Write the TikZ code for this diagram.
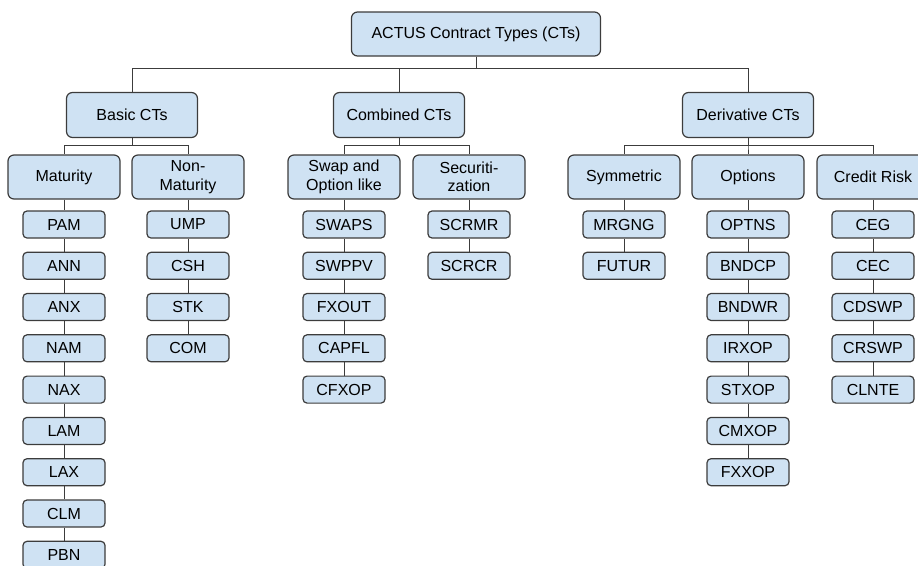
\documentclass[tikz,border=0pt]{standalone}
\usepackage{fontspec}
\setmainfont{Liberation Sans}
\usetikzlibrary{arrows}
\usetikzlibrary{shapes}

\definecolor{boxfill}{HTML}{CFE2F3}
\definecolor{boxline}{HTML}{3C3C3C}

\begin{document}
\begin{tikzpicture}[x = 1pt, y = -1pt]
\tikzstyle{ctStyle} = [draw = boxline, fill = boxfill, line width = 1.2pt, rounded corners = 6pt, align = center, inner sep = 0pt, font = \fontsize{16}{18.5}\selectfont]
\tikzstyle{rootStyle} = [ctStyle, minimum width = 249pt, minimum height = 44pt]
\tikzstyle{groupStyle} = [ctStyle, minimum width = 131pt, minimum height = 45pt]
\tikzstyle{familyStyle} = [ctStyle, minimum width = 112pt, minimum height = 44pt]
\tikzstyle{leafStyle} = [ctStyle, rounded corners = 4pt, minimum width = 82pt, minimum height = 27pt]
\tikzstyle{EdgeStyle} = [draw = boxline, line width = 1pt]
\useasboundingbox (0,0) rectangle (918,565);
% top levels
\node[rootStyle] (ctRoot) at (476, 34) {ACTUS Contract Types (CTs)};
\node[groupStyle] (basic) at (132, 115) {Basic CTs};
\node[groupStyle] (combined) at (399, 115) {Combined CTs};
\node[groupStyle] (derivative) at (748, 115) {Derivative CTs};
\node[familyStyle] (maturity) at (64, 177) {Maturity};
\node[familyStyle] (nonMaturity) at (188, 177) {Non-\\Maturity};
\node[familyStyle] (swapOption) at (344, 177) {Swap and\\Option like};
\node[familyStyle] (securitization) at (469, 177) {Securiti-\\zation};
\node[familyStyle] (symmetric) at (624, 177) {Symmetric};
\node[familyStyle] (options) at (748, 177) {Options};
\node[familyStyle] (creditRisk) at (873, 177) {Credit Risk};
% maturity
\node[leafStyle] (pam) at (64, 224.5) {PAM};
\node[leafStyle] (ann) at (64, 265.8) {ANN};
\node[leafStyle] (anx) at (64, 307) {ANX};
\node[leafStyle] (nam) at (64, 348.3) {NAM};
\node[leafStyle] (nax) at (64, 389.6) {NAX};
\node[leafStyle] (lam) at (64, 430.9) {LAM};
\node[leafStyle] (lax) at (64, 472.2) {LAX};
\node[leafStyle] (clm) at (64, 513.5) {CLM};
\node[leafStyle] (pbn) at (64, 554.8) {PBN};
% non-maturity
\node[leafStyle] (ump) at (188, 224.5) {UMP};
\node[leafStyle] (csh) at (188, 265.8) {CSH};
\node[leafStyle] (stk) at (188, 307) {STK};
\node[leafStyle] (com) at (188, 348.3) {COM};
% swap and option like
\node[leafStyle] (swaps) at (344, 224.5) {SWAPS};
\node[leafStyle] (swppv) at (344, 265.8) {SWPPV};
\node[leafStyle] (fxout) at (344, 307) {FXOUT};
\node[leafStyle] (capfl) at (344, 348.3) {CAPFL};
\node[leafStyle] (cfxop) at (344, 389.6) {CFXOP};
% securitization
\node[leafStyle] (scrmr) at (469, 224.5) {SCRMR};
\node[leafStyle] (scrcr) at (469, 265.8) {SCRCR};
% symmetric
\node[leafStyle] (mrgng) at (624, 224.5) {MRGNG};
\node[leafStyle] (futur) at (624, 265.8) {FUTUR};
% options
\node[leafStyle] (optns) at (748, 224.5) {OPTNS};
\node[leafStyle] (bndcp) at (748, 265.8) {BNDCP};
\node[leafStyle] (bndwr) at (748, 307) {BNDWR};
\node[leafStyle] (irxop) at (748, 348.3) {IRXOP};
\node[leafStyle] (stxop) at (748, 389.6) {STXOP};
\node[leafStyle] (cmxop) at (748, 430.9) {CMXOP};
\node[leafStyle] (fxxop) at (748, 472.2) {FXXOP};
% credit risk
\node[leafStyle] (ceg) at (873, 224.5) {CEG};
\node[leafStyle] (cec) at (873, 265.8) {CEC};
\node[leafStyle] (cdswp) at (873, 307) {CDSWP};
\node[leafStyle] (crswp) at (873, 348.3) {CRSWP};
\node[leafStyle] (clnte) at (873, 389.6) {CLNTE};
% connectors
\draw[EdgeStyle] (ctRoot.south) -- ++(0, 12) -| (basic.north);
\draw[EdgeStyle] (ctRoot.south) -- ++(0, 12) -| (combined.north);
\draw[EdgeStyle] (ctRoot.south) -- ++(0, 12) -| (derivative.north);
\draw[EdgeStyle] (basic.south) -- ++(0, 7.5) -| (maturity.north);
\draw[EdgeStyle] (basic.south) -- ++(0, 7.5) -| (nonMaturity.north);
\draw[EdgeStyle] (combined.south) -- ++(0, 7.5) -| (swapOption.north);
\draw[EdgeStyle] (combined.south) -- ++(0, 7.5) -| (securitization.north);
\draw[EdgeStyle] (derivative.south) -- ++(0, 7.5) -| (symmetric.north);
\draw[EdgeStyle] (derivative.south) -- ++(0, 7.5) -| (options.north);
\draw[EdgeStyle] (derivative.south) -- ++(0, 7.5) -| (creditRisk.north);
\draw[EdgeStyle] (maturity) -- (pam) -- (ann) -- (anx) -- (nam) -- (nax) -- (lam) -- (lax) -- (clm) -- (pbn);
\draw[EdgeStyle] (nonMaturity) -- (ump) -- (csh) -- (stk) -- (com);
\draw[EdgeStyle] (swapOption) -- (swaps) -- (swppv) -- (fxout) -- (capfl) -- (cfxop);
\draw[EdgeStyle] (securitization) -- (scrmr) -- (scrcr);
\draw[EdgeStyle] (symmetric) -- (mrgng) -- (futur);
\draw[EdgeStyle] (options) -- (optns) -- (bndcp) -- (bndwr) -- (irxop) -- (stxop) -- (cmxop) -- (fxxop);
\draw[EdgeStyle] (creditRisk) -- (ceg) -- (cec) -- (cdswp) -- (crswp) -- (clnte);
\end{tikzpicture}
\end{document}
